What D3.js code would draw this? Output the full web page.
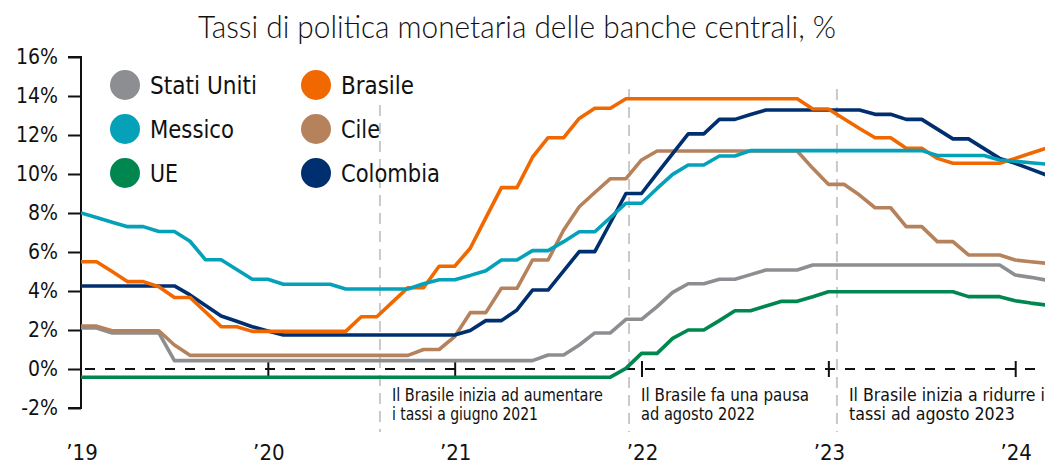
<!DOCTYPE html>
<html>
<head>
<meta charset="utf-8">
<script src="https://cdn.jsdelivr.net/npm/d3@7"></script>
<style>
  html, body { margin: 0; padding: 0; background: #ffffff; }
  svg { display: block; }
  text { font-family: "Liberation Sans Narrow", "DejaVu Sans Condensed", "Open Sans", sans-serif; fill: #111; }
  .title { font-family: Lato, "Open Sans", sans-serif; font-weight: 300; }
</style>
</head>
<body>
<svg id="chart" width="1045" height="464"></svg>
<script>
// Monthly policy rates, January 2019 onward (month index 0 = Jan '19)
const countries = ["Stati Uniti", "Messico", "UE", "Brasile", "Cile", "Colombia"];
const colors = ["#8c8e91", "#04a1b9", "#00864f", "#f26800", "#b6825c", "#002f6f"];

const usa = [2.1, 2.1, 1.85, 1.85, 1.85, 1.85, 0.43, 0.43, 0.43, 0.43, 0.43, 0.43,
  0.43, 0.43, 0.43, 0.43, 0.43, 0.43, 0.43, 0.43, 0.43, 0.43, 0.43, 0.43,
  0.43, 0.43, 0.43, 0.43, 0.43, 0.43, 0.72, 0.72, 1.23, 1.85, 1.85, 2.55,
  2.55, 3.2, 3.93, 4.37, 4.37, 4.6, 4.6, 4.84, 5.08, 5.08, 5.08, 5.33,
  5.33, 5.33, 5.33, 5.33, 5.33, 5.33, 5.33, 5.33, 5.33, 5.33, 5.33, 5.33,
  4.82, 4.7, 4.56];
const mexico = [8.0, 7.77, 7.53, 7.3, 7.3, 7.05, 7.05, 6.55, 5.6, 5.6, 5.1, 4.6,
  4.6, 4.35, 4.35, 4.35, 4.35, 4.1, 4.1, 4.1, 4.1, 4.1, 4.37, 4.58,
  4.58, 4.8, 5.04, 5.59, 5.59, 6.07, 6.07, 6.53, 7.04, 7.04, 7.77, 8.5,
  8.5, 9.26, 9.98, 10.46, 10.46, 10.92, 10.92, 11.2, 11.2, 11.2, 11.2, 11.2,
  11.2, 11.2, 11.2, 11.2, 11.2, 11.2, 11.2, 10.95, 10.95, 10.95, 10.95, 10.72,
  10.65, 10.58, 10.51];
const eu = [-0.42, -0.42, -0.42, -0.42, -0.42, -0.42, -0.42, -0.42, -0.42, -0.42, -0.42, -0.42,
  -0.42, -0.42, -0.42, -0.42, -0.42, -0.42, -0.42, -0.42, -0.42, -0.42, -0.42, -0.42,
  -0.42, -0.42, -0.42, -0.42, -0.42, -0.42, -0.42, -0.42, -0.42, -0.42, -0.42, 0.03,
  0.8, 0.8, 1.57, 2.0, 2.0, 2.48, 2.99, 2.99, 3.23, 3.47, 3.47, 3.71,
  3.96, 3.96, 3.96, 3.96, 3.96, 3.96, 3.96, 3.96, 3.96, 3.71, 3.71, 3.71,
  3.5, 3.38, 3.28];
const brazil = [5.5, 5.5, 5.0, 4.48, 4.48, 4.22, 3.67, 3.67, 2.92, 2.17, 2.17, 1.93,
  1.93, 1.93, 1.93, 1.93, 1.93, 1.93, 2.68, 2.68, 3.43, 4.17, 4.17, 5.27,
  5.27, 6.19, 7.75, 9.3, 9.3, 10.86, 11.86, 11.86, 12.85, 13.37, 13.37, 13.86,
  13.86, 13.86, 13.86, 13.86, 13.86, 13.86, 13.86, 13.86, 13.86, 13.86, 13.86, 13.33,
  13.33, 12.83, 12.33, 11.86, 11.86, 11.32, 11.32, 10.8, 10.55, 10.55, 10.55, 10.55,
  10.8, 11.06, 11.32];
const chile = [2.2, 2.2, 1.96, 1.96, 1.96, 1.96, 1.23, 0.7, 0.7, 0.7, 0.7, 0.7,
  0.7, 0.7, 0.7, 0.7, 0.7, 0.7, 0.7, 0.7, 0.7, 0.7, 1.0, 1.0,
  1.66, 2.89, 2.89, 4.14, 4.14, 5.59, 5.59, 7.13, 8.32, 9.05, 9.76, 9.76,
  10.72, 11.18, 11.18, 11.18, 11.18, 11.18, 11.18, 11.18, 11.18, 11.18, 11.18, 10.29,
  9.47, 9.47, 8.92, 8.27, 8.27, 7.3, 7.3, 6.53, 6.53, 5.85, 5.85, 5.85,
  5.59, 5.5, 5.42];
const colombia = [4.26, 4.26, 4.26, 4.26, 4.26, 4.26, 4.26, 3.8, 3.26, 2.72, 2.45, 2.17,
  1.95, 1.74, 1.74, 1.74, 1.74, 1.74, 1.74, 1.74, 1.74, 1.74, 1.74, 1.74,
  1.74, 1.97, 2.48, 2.48, 3.03, 4.05, 4.05, 5.03, 6.02, 6.02, 7.5, 9.0,
  9.0, 10.03, 11.05, 12.06, 12.06, 12.8, 12.8, 13.05, 13.28, 13.28, 13.28, 13.28,
  13.28, 13.28, 13.28, 13.06, 13.06, 12.8, 12.8, 12.3, 11.8, 11.8, 11.3, 10.8,
  10.55, 10.25, 9.95];

const yTicks = [-2, 0, 2, 4, 6, 8, 10, 12, 14, 16];
const yearTicks = [0, 12, 24, 36, 48, 60];
const yearLabels = ["’19", "’20", "’21", "’22", "’23", "’24"];

// Event markers (month index) and their notes
const eventMonths = [19.2, 35.2, 48.55];
const eventNotes = [
  ["Il Brasile inizia ad aumentare", "i tassi a giugno 2021"],
  ["Il Brasile fa una pausa", "ad agosto 2022"],
  ["Il Brasile inizia a ridurre i", "tassi ad agosto 2023"]
];

const title = "Tassi di politica monetaria delle banche centrali, %";

// Series drawn bottom-to-top
const seriesOrder = [
  { name: "Stati Uniti", values: usa },
  { name: "Cile", values: chile },
  { name: "UE", values: eu },
  { name: "Colombia", values: colombia },
  { name: "Brasile", values: brazil },
  { name: "Messico", values: mexico }
];

const svg = d3.select("#chart");
const W = 1045, H = 464;

const x = d3.scaleLinear().domain([0, 60]).range([81, 1015.2]);
const y = d3.scaleLinear().domain([-2, 16]).range([408, 57]);
const color = d3.scaleOrdinal().domain(countries).range(colors);

svg.append("defs").append("clipPath").attr("id", "plot-clip")
  .append("rect").attr("x", 81).attr("y", 0).attr("width", W - 81).attr("height", H);

// Title
svg.append("text")
  .attr("class", "title")
  .attr("x", 517).attr("y", 38)
  .attr("text-anchor", "middle")
  .attr("font-size", 31)
  .attr("textLength", 638).attr("lengthAdjust", "spacingAndGlyphs")
  .text(title);

// Event markers (dashed grey verticals)
const eventTops = [105, 89, 89];
svg.append("g").selectAll("line").data(eventMonths).join("line")
  .attr("x1", d => x(d)).attr("x2", d => x(d))
  .attr("y1", (d, i) => eventTops[i]).attr("y2", 432)
  .attr("stroke", "#c9c9c9").attr("stroke-width", 2)
  .attr("stroke-dasharray", "11,7");

// Notes under the zero line
const noteWidths = [[211, 146], [168, 114], [196, 166]];
const notes = svg.append("g");
eventNotes.forEach((lines, i) => {
  lines.forEach((t, j) => {
    notes.append("text")
      .attr("x", x(eventMonths[i]) + 12)
      .attr("y", 401 + j * 18.5)
      .attr("font-size", 17)
      .attr("textLength", noteWidths[i][j]).attr("lengthAdjust", "spacingAndGlyphs")
      .text(t);
  });
});

// Y axis
const yAxis = d3.axisLeft(y).tickValues(yTicks).tickSize(13).tickPadding(10)
  .tickFormat(d => d + "%");
const gy = svg.append("g").attr("transform", "translate(81,0)").call(yAxis);
gy.select(".domain").attr("stroke", "#111").attr("stroke-width", 2)
  .attr("d", `M-13,${y(16)}H0V${y(-2)}H-13`);
gy.selectAll(".tick line").attr("stroke", "#111").attr("stroke-width", 2);
gy.selectAll(".tick text").attr("font-size", 21).attr("fill", "#111")
  .style("font-family", "'Liberation Sans Narrow', 'DejaVu Sans Condensed', sans-serif");

// Zero line, dashed, with year ticks across it
svg.append("line")
  .attr("x1", 81).attr("x2", W)
  .attr("y1", y(0)).attr("y2", y(0))
  .attr("stroke", "#111").attr("stroke-width", 2)
  .attr("stroke-dasharray", "10,10").attr("stroke-dashoffset", -4);

const xAxis = d3.axisBottom(x).tickValues(yearTicks.slice(1)).tickSize(16)
  .tickFormat(() => "");
const gx = svg.append("g").attr("transform", `translate(0,${y(0) - 8})`).call(xAxis);
gx.select(".domain").remove();
gx.selectAll(".tick line").attr("stroke", "#111").attr("stroke-width", 2);

// Year labels along the bottom
svg.append("g").selectAll("text").data(yearTicks).join("text")
  .attr("x", d => x(d) + 1)
  .attr("y", 460)
  .attr("text-anchor", "middle")
  .attr("font-size", 22)
  .text((d, i) => yearLabels[i]);

// Rate lines
const line = d3.line().x((d, i) => x(i)).y(d => y(d));
svg.append("g").attr("clip-path", "url(#plot-clip)")
  .selectAll("path").data(seriesOrder).join("path")
  .attr("d", d => line(d.values))
  .attr("fill", "none")
  .attr("stroke", d => color(d.name))
  .attr("stroke-width", 3.6)
  .attr("stroke-linejoin", "round");

// Legend
const legendPos = [
  [125, 85], [125, 129], [125, 173],
  [316, 85], [316, 129], [316, 173]
];
const legendWidths = [107, 84, 28, 73, 39, 99];
const legend = svg.append("g");
countries.forEach((c, i) => {
  const [cx, cy] = legendPos[i];
  legend.append("circle").attr("cx", cx).attr("cy", cy).attr("r", 15).attr("fill", color(c));
  legend.append("text")
    .attr("x", cx + 25).attr("y", cy + 9)
    .attr("font-size", 25)
    .attr("textLength", legendWidths[i]).attr("lengthAdjust", "spacingAndGlyphs")
    .text(c);
});
</script>
</body>
</html>
